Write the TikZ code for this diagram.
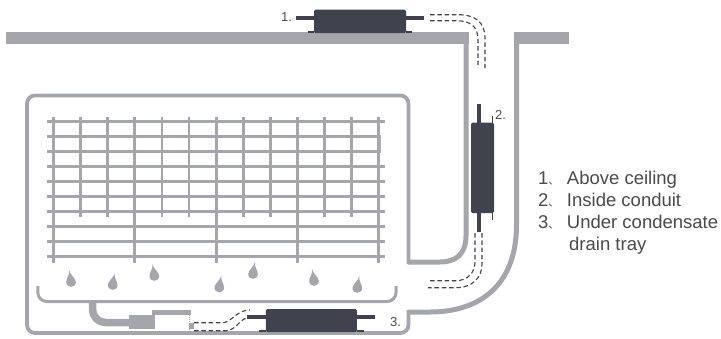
\documentclass[tikz,border=0pt]{standalone}
\usepackage{fontspec}
\setmainfont{Liberation Sans}
\newfontfamily\cjkfont{Noto Sans CJK SC}
\newcommand{\notecomma}{\makebox[18.5pt][l]{\cjkfont\fontsize{11}{11}\selectfont 、}}
\definecolor{wallgray}{HTML}{A4A6AB}
\definecolor{unitdark}{HTML}{40434E}
\definecolor{labelgray}{HTML}{4A4A4A}
\tikzset{
	wall/.style={draw=wallgray,line width=5pt},
	housing/.style={draw=wallgray,line width=3.8pt,line join=round},
	gridbar/.style={draw=wallgray,line width=2.8pt},
	unitbody/.style={fill=unitdark,rounded corners=1.5pt,inner sep=0pt},
	tube/.style={draw=unitdark,line width=4pt},
	foot/.style={draw=unitdark,line width=1.2pt},
	hose/.style={draw=unitdark,line width=1.1pt,dash pattern=on 4.5pt off 2.8pt},
	numlabel/.style={text=labelgray,font=\fontsize{13}{15}\selectfont},
	notelabel/.style={text=labelgray,anchor=base west,inner sep=0pt,font=\fontsize{18.5}{22}\selectfont}
}
\begin{document}
\begin{tikzpicture}[x=1pt,y=-1pt]
	\useasboundingbox (0,0) rectangle (721,338);
	% ceiling and conduit
	\fill[wallgray] (6,32) rectangle (469,44);
	\fill[wallgray] (514,32) rectangle (569,44);
	\draw[wall] (466,32)--(466,236) .. controls (466,254) and (456,262) .. (440,262)--(408,262);
	\draw[wall] (516.5,32)--(516.5,225) .. controls (516.5,285) and (480,312) .. (430,312)--(408,312);
	% cabinet
	\draw[housing,rounded corners=8pt] (408.5,264)--(408.5,95.5)--(27,95.5)--(27,333)--(408.5,333)--(408.5,310);
	% coil
	\foreach \y in {121.7,136.7,...,256.8}
		\draw[gridbar] (47,\y)--(385,\y);
	\fill[white] (378.5,135)--(386,135)--(386,153.2)--(378.5,153.2)--cycle;
	\draw[gridbar,wallgray!85] (377,136.7)--(380,136.7)--(380,153);
	\foreach \x in {53.5,80.6,...,379}
		\draw[gridbar] (\x,116.7)--(\x,217);
	\foreach \x in {53.5,134.8,...,379}
		\draw[gridbar] (\x,217)--(\x,263);
	% drops
	\foreach \x/\y/\s in {71/282/-1,112.7/285/1,154.3/276/-1,219.3/287.5/1,253/274/1,314/281/-1,357.3/288/1}
		\fill[wallgray] (\x+\s*2,\y-12) .. controls (\x+\s*1,\y-7) and (\x-4.8,\y-4) .. (\x-4.8,\y) .. controls (\x-4.8,\y+6.4) and (\x+4.8,\y+6.4) .. (\x+4.8,\y) .. controls (\x+4.8,\y-4) and (\x+\s*1,\y-7) .. cycle;
	% tray and drain
	\draw[wallgray,line width=3pt,rounded corners=9pt] (37.8,286)--(37.8,301.5)--(396,301.5)--(396,286);
	\draw[wallgray,line width=7.5pt,rounded corners=13pt] (92.5,302)--(92.5,322.5)--(132,322.5);
	\fill[wallgray] (129,315) rectangle (154.5,329);
	\fill[wallgray] (152.3,310) rectangle (191,315);
	\fill[wallgray] (188.7,323) rectangle (194.3,329);
	\draw[wallgray,line width=.5pt,dash pattern=on 1pt off 1pt] (189,315)--(189,331);
	% units
	\node[unitbody,minimum width=92pt,minimum height=23.5pt] (ceilingunit) at (360,21.3) {};
	\node[unitbody,minimum width=23pt,minimum height=90.5pt] (conduitunit) at (482.5,167.8) {};
	\node[unitbody,minimum width=91pt,minimum height=23pt] (trayunit) at (311.3,320.5) {};
	\draw[tube] (ceilingunit.west |- 0,18)--(296,18) (ceilingunit.east |- 0,18)--(424,18);
	\draw[tube] (479,122.5)--(479,104) (479,213)--(479,232);
	\draw[tube] (trayunit.west |- 0,317)--(247,317) (trayunit.east |- 0,317)--(375,317);
	\draw[foot] (308,32)--(ceilingunit.west |- 0,32) (ceilingunit.east |- 0,32)--(412,32);
	\draw[foot] (492.3,116)--(492.3,123) (492.3,213)--(492.3,220);
	\draw[foot] (259,331)--(trayunit.west |- 0,331) (trayunit.east |- 0,331)--(364,331);
	% hoses
	\draw[hose] (430,14.7)--(458,14.7) .. controls (475,14.7) and (485,22) .. (485,38)--(485,68);
	\draw[hose] (430,20.7)--(456,20.7) .. controls (470,20.7) and (478,26) .. (478,40)--(478,68);
	\draw[hose] (475,233)--(475,262) .. controls (475,272) and (468,280.7) .. (456,280.7)--(428,280.7);
	\draw[hose] (482,233)--(482,264) .. controls (482,278) and (472,287.7) .. (456,287.7)--(428,287.7);
	\draw[hose] (194,322.7)--(222,322.7) .. controls (232,322.7) and (236,310) .. (250,310);
	\draw[hose] (194,330.7)--(226,330.7) .. controls (236,330.7) and (240,318) .. (248,318);
	% labels
	\node[numlabel] (labelone) at (286.5,17) {1.};
	\node[numlabel] (labeltwo) at (500.5,114.5) {2.};
	\node[numlabel] (labelthree) at (395.5,322) {3.};
	\node[notelabel] (noteone) at (538,184) {1\notecomma Above ceiling};
	\node[notelabel] (notetwo) at (538,206.5) {2\notecomma Inside conduit};
	\node[notelabel] (notethree) at (538,228.5) {3\notecomma Under condensate};
	\node[notelabel] (notefour) at (569,250) {drain tray};
\end{tikzpicture}
\end{document}
